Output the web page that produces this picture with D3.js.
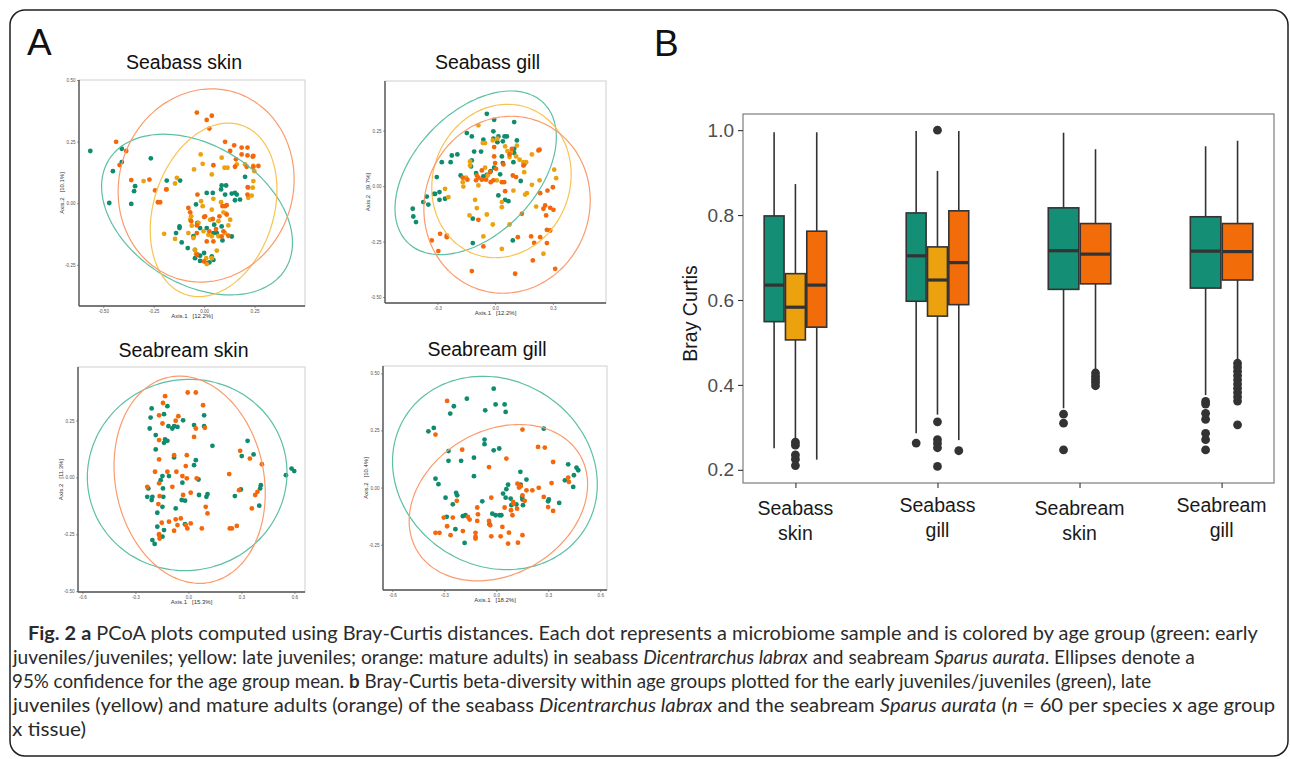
<!DOCTYPE html>
<html>
<head>
<meta charset="utf-8">
<script src="https://cdn.jsdelivr.net/npm/d3@7"></script>
<style>
  body { margin: 0; background: #fff; }
  svg { display: block; }
</style>
</head>
<body>
<script>
// ---------- panel A : PCoA scores (Axis.1, Axis.2) ----------
const pcoaTitles = ["Seabass skin", "Seabass gill", "Seabream skin", "Seabream gill"];
const axis1Labels = ["Axis.1   [12.2%]", "Axis.1   [12.2%]", "Axis.1   [15.3%]", "Axis.1   [18.2%]"];
const axis2Labels = ["Axis.2   [10.1%]", "Axis.2   [9.7%]", "Axis.2   [11.3%]", "Axis.2   [10.4%]"];
const pcoaXTicks = [[-0.5, -0.25, 0, 0.25], [-0.3, 0, 0.3], [-0.6, -0.3, 0, 0.3, 0.6], [-0.6, -0.3, 0, 0.3, 0.6]];
const pcoaYTicks = [[-0.25, 0, 0.25, 0.5], [-0.5, -0.25, 0, 0.25], [-0.5, -0.25, 0, 0.25], [-0.25, 0, 0.25, 0.5]];
const pcoaXDigits = [2, 1, 1, 1];
const ageGroups = ["early juveniles/juveniles", "late juveniles", "mature adults"];

const bassSkinEarly = [[-0.564,0.212],[-0.408,0.221],[-0.408,0.167],[-0.452,0.130],[-0.342,0.069],[-0.347,0.049],[-0.470,0.001],[-0.361,-0.003],[-0.264,0.182],[-0.185,0.092],[-0.119,0.092],[-0.040,-0.005],[0.013,0.042],[0.043,0.042],[0.084,0.056],[0.087,0.072],[0.109,0.072],[0.104,0.035],[0.137,0.039],[0.153,0.042],[0.162,0.035],[0.178,0.015],[0.153,0.012],[0.203,0.107],[-0.122,-0.094],[-0.122,-0.101],[-0.139,-0.121],[-0.111,-0.159],[-0.081,-0.182],[-0.053,-0.134],[-0.033,-0.080],[-0.020,-0.101],[0.013,-0.101],[0.050,-0.087],[0.087,-0.094],[0.046,-0.121],[0.063,-0.121],[0.091,-0.151],[0.137,-0.135],[-0.045,-0.189],[-0.033,-0.209],[-0.045,-0.223],[-0.020,-0.213],[0.000,-0.202],[-0.020,-0.234],[0.013,-0.243],[0.026,-0.240],[0.046,-0.230],[0.038,-0.216]];
const bassSkinLate = [[-0.300,0.090],[-0.185,0.056],[-0.135,0.103],[-0.144,0.080],[-0.050,0.137],[-0.017,0.198],[-0.007,0.160],[0.038,0.117],[0.087,0.185],[0.101,0.144],[0.116,0.144],[0.162,0.158],[0.203,0.158],[0.244,0.151],[0.249,0.130],[0.244,0.090],[0.241,0.063],[0.219,0.063],[0.236,0.031],[0.219,0.022],[0.046,0.018],[-0.015,0.008],[-0.064,-0.053],[-0.069,-0.067],[-0.061,-0.091],[-0.028,-0.080],[0.030,-0.067],[0.071,-0.073],[0.109,-0.042],[0.129,-0.067],[0.120,-0.090],[0.104,-0.121],[0.071,-0.134],[0.021,-0.128],[0.038,-0.134],[-0.003,-0.114],[-0.198,-0.124],[-0.144,-0.145],[-0.078,-0.121],[-0.053,-0.141],[-0.046,-0.189],[-0.040,-0.205],[0.063,-0.192],[0.010,-0.223],[0.013,-0.247],[0.038,-0.223],[0.096,-0.037],[0.084,0.004],[0.038,-0.026],[-0.007,-0.012]];
const bassSkinAdult = [[-0.036,0.368],[0.013,0.338],[0.038,0.355],[0.026,0.303],[-0.436,0.249],[-0.419,0.155],[-0.386,0.212],[-0.361,0.094],[-0.271,0.096],[-0.243,0.052],[-0.229,0.004],[-0.218,0.004],[-0.188,0.056],[-0.033,0.035],[0.046,0.154],[0.104,0.249],[0.129,0.212],[0.149,0.235],[0.158,0.178],[0.186,0.198],[0.215,0.226],[0.215,0.194],[0.186,0.226],[0.211,0.148],[0.241,0.189],[0.244,0.148],[0.153,0.148],[0.216,0.065],[0.104,-0.012],[0.112,-0.008],[0.091,-0.012],[-0.078,-0.019],[-0.069,-0.037],[-0.064,-0.073],[-0.036,-0.090],[0.005,-0.053],[0.043,-0.064],[0.000,-0.056],[0.026,-0.114],[0.059,-0.105],[0.076,-0.053],[0.112,-0.046],[-0.036,-0.121],[0.013,-0.155],[0.046,-0.155],[0.087,-0.135],[0.096,-0.114],[0.120,-0.132],[0.244,0.192],[0.215,0.035],[-0.036,-0.209],[0.000,-0.236],[0.269,0.151]];

const bassGillEarly = [[-0.043,0.326],[-0.005,0.299],[0.099,0.289],[-0.147,0.239],[-0.121,0.224],[-0.009,0.247],[0.017,0.224],[0.049,0.224],[0.061,0.224],[0.040,0.202],[0.012,0.198],[-0.061,0.209],[-0.073,0.156],[-0.109,0.156],[-0.196,0.143],[-0.225,0.138],[-0.277,0.108],[-0.231,0.108],[-0.121,0.116],[-0.125,0.089],[-0.099,0.059],[-0.061,0.044],[-0.023,0.068],[-0.005,0.083],[0.040,0.104],[0.095,0.108],[0.099,0.168],[0.113,0.206],[0.151,0.098],[0.099,0.149],[-0.179,0.048],[-0.303,0.041],[-0.312,-0.035],[-0.289,-0.027],[-0.373,-0.072],[-0.355,-0.047],[-0.347,-0.083],[-0.317,-0.035],[-0.260,-0.057],[-0.428,-0.102],[-0.425,-0.137],[-0.411,-0.162],[-0.289,-0.062],[0.133,0.023],[0.017,-0.042],[0.052,-0.062],[0.069,-0.068],[-0.116,-0.147],[0.092,-0.245],[-0.116,-0.257],[-0.043,0.051],[0.026,0.053],[-0.009,0.214],[0.035,0.134]];
const bassGillLate = [[-0.087,0.274],[-0.064,0.194],[-0.052,0.194],[-0.012,0.206],[0.012,0.214],[0.052,0.179],[0.064,0.158],[0.075,0.131],[0.081,0.153],[0.109,0.134],[0.127,0.119],[0.147,0.108],[0.161,0.108],[0.191,0.143],[0.151,0.063],[-0.130,0.111],[-0.151,0.038],[-0.168,0.018],[-0.165,-0.002],[-0.260,-0.012],[-0.243,-0.050],[-0.104,-0.062],[-0.095,-0.099],[-0.133,-0.132],[-0.043,-0.128],[-0.012,-0.173],[0.035,-0.072],[0.035,-0.095],[0.075,-0.173],[0.095,-0.020],[0.156,-0.038],[0.165,-0.032],[0.191,0.006],[0.307,0.074],[0.317,0.036],[0.213,-0.092],[0.231,0.026],[-0.061,-0.227],[0.035,-0.283],[0.251,-0.305],[-0.052,0.083],[-0.038,0.048],[0.009,0.026],[-0.087,0.003],[-0.130,0.093],[0.113,0.183]];
const bassGillAdult = [[-0.005,0.176],[-0.005,0.134],[0.000,0.104],[0.005,0.078],[-0.026,0.063],[-0.069,0.071],[-0.095,0.048],[-0.087,0.038],[-0.069,0.029],[-0.047,0.029],[-0.023,0.018],[-0.009,0.026],[0.043,0.098],[0.075,0.143],[0.092,0.048],[0.109,0.041],[0.047,0.018],[0.087,0.168],[0.147,0.093],[0.225,0.161],[0.231,0.164],[-0.099,0.026],[-0.144,0.029],[-0.168,0.038],[-0.087,-0.152],[0.035,0.018],[0.052,-0.023],[0.139,-0.125],[0.187,-0.227],[0.203,-0.256],[0.234,-0.230],[0.269,-0.257],[0.269,-0.197],[0.265,-0.132],[0.251,-0.102],[0.260,-0.087],[0.286,-0.098],[0.303,-0.107],[0.272,-0.020],[0.300,-0.005],[0.234,-0.032],[-0.286,-0.215],[-0.329,-0.245],[-0.251,-0.223],[-0.251,-0.230],[-0.061,-0.272],[-0.121,-0.383],[0.104,-0.395],[0.196,-0.335],[0.312,-0.373],[-0.295,-0.293],[0.118,-0.230],[0.286,-0.200]];

const breamSkinEarly = [[-0.208,0.303],[-0.214,0.263],[-0.219,0.215],[-0.185,0.186],[-0.185,0.123],[-0.138,0.152],[-0.119,0.313],[-0.138,0.278],[-0.113,0.225],[-0.091,0.215],[-0.081,0.225],[-0.062,0.222],[-0.030,0.251],[-0.132,0.167],[-0.119,0.161],[-0.081,0.088],[-0.110,0.006],[-0.147,0.006],[-0.157,-0.012],[-0.144,-0.048],[-0.142,-0.085],[-0.227,-0.048],[-0.233,-0.085],[-0.204,-0.085],[-0.208,-0.099],[-0.176,-0.155],[-0.147,-0.129],[-0.138,-0.231],[-0.147,-0.260],[-0.204,-0.275],[-0.191,-0.292],[-0.072,-0.136],[-0.038,-0.099],[-0.034,-0.023],[-0.019,-0.102],[-0.019,-0.205],[0.032,0.054],[0.057,-0.009],[0.060,-0.077],[0.108,-0.073],[0.102,-0.085],[0.089,0.273],[0.089,0.225],[0.032,0.230],[0.136,0.139],[0.297,-0.053],[0.263,-0.082],[0.302,0.094],[0.335,0.161],[0.369,0.101],[0.410,-0.034],[0.406,-0.048],[0.401,-0.124],[0.552,0.010],[0.584,0.039],[0.599,0.028],[0.042,0.076],[-0.176,-0.216]];
const breamSkinAdult = [[-0.132,0.357],[-0.144,0.327],[-0.166,0.273],[-0.147,0.237],[-0.166,0.164],[-0.166,0.079],[-0.189,0.025],[-0.166,-0.026],[-0.163,-0.082],[-0.170,-0.117],[-0.151,-0.199],[-0.166,-0.249],[-0.163,-0.268],[-0.057,0.269],[-0.072,0.249],[-0.081,0.098],[-0.068,0.025],[-0.119,0.025],[-0.091,-0.041],[-0.034,0.006],[-0.009,0.098],[-0.015,0.050],[-0.009,-0.004],[0.013,-0.067],[-0.030,-0.077],[0.013,-0.202],[-0.015,-0.209],[-0.006,-0.224],[-0.072,-0.184],[-0.062,-0.209],[-0.110,-0.194],[-0.043,-0.180],[-0.081,-0.234],[0.032,0.178],[0.042,0.215],[0.047,-0.004],[0.083,0.317],[0.093,0.218],[0.076,-0.224],[0.098,-0.129],[0.108,-0.158],[-0.004,0.373],[0.042,0.373],[-0.233,-0.041],[0.231,0.015],[0.234,-0.224],[0.246,-0.224],[0.274,-0.213],[0.287,-0.056],[0.293,0.117],[0.348,0.083],[0.359,-0.136],[0.378,-0.077],[0.391,-0.063],[0.416,0.058],[-0.166,-0.253]];

const breamGillEarly = [[-0.015,0.433],[-0.170,0.389],[-0.004,0.364],[0.048,0.364],[0.054,0.331],[-0.245,0.356],[-0.266,0.324],[-0.064,0.338],[-0.392,0.246],[-0.361,0.261],[-0.351,0.039],[-0.334,0.015],[-0.276,0.160],[-0.276,0.117],[-0.203,0.117],[-0.068,0.190],[-0.068,0.210],[-0.015,0.163],[0.017,0.171],[-0.129,0.131],[-0.129,0.050],[-0.232,-0.023],[-0.226,-0.034],[-0.293,-0.044],[-0.251,-0.073],[-0.286,-0.128],[-0.236,-0.182],[-0.193,-0.125],[-0.178,-0.121],[-0.081,-0.060],[-0.039,-0.160],[-0.023,-0.114],[-0.004,-0.121],[0.019,-0.121],[0.029,-0.121],[0.054,-0.044],[0.058,-0.007],[0.068,0.013],[0.083,-0.048],[0.087,-0.077],[0.116,-0.074],[0.141,0.013],[0.139,0.069],[0.149,-0.041],[0.151,-0.052],[0.174,0.035],[0.154,-0.077],[0.274,0.258],[0.299,-0.060],[0.303,-0.052],[0.363,-0.067],[0.396,0.032],[0.415,0.102],[0.444,0.003],[0.448,0.054],[0.463,0.087],[0.473,0.076],[0.039,-0.026],[-0.183,-0.242]];
const breamGillAdult = [[-0.284,0.379],[-0.351,0.232],[-0.197,0.166],[-0.042,0.090],[0.058,0.127],[0.151,0.254],[0.241,0.178],[0.280,0.175],[0.328,0.112],[0.319,0.020],[0.274,-0.041],[0.299,-0.085],[0.328,-0.102],[0.245,-0.001],[0.208,-0.012],[0.174,-0.012],[0.141,0.006],[0.151,-0.034],[0.164,-0.058],[0.097,-0.063],[0.100,-0.070],[0.085,-0.099],[0.093,-0.121],[0.120,-0.092],[0.048,-0.087],[-0.029,-0.044],[-0.042,-0.146],[0.035,-0.172],[0.025,-0.213],[0.073,-0.197],[0.068,-0.245],[0.125,-0.241],[0.151,-0.208],[-0.110,-0.087],[-0.106,-0.117],[-0.164,-0.128],[-0.154,-0.140],[-0.110,-0.146],[-0.251,-0.131],[-0.228,-0.058],[-0.303,-0.131],[-0.284,-0.169],[-0.351,-0.198],[-0.328,-0.198],[-0.264,-0.208],[-0.193,-0.190],[-0.120,-0.198],[-0.120,-0.216],[-0.120,-0.223],[-0.029,-0.213],[0.122,0.017],[0.131,0.000],[0.415,0.044],[0.419,0.025],[-0.035,-0.165]];

// 95% ellipses: [centre x, centre y, half width, half height, y-offset of rightmost point]
const bassSkinEllipses = [[-0.035,-0.046,0.473,0.326,-0.114],[0.047,-0.027,0.314,0.352,0.082],[0.010,0.072,0.436,0.392,0.025]];
const bassGillEllipses = [[-0.101,0.060,0.419,0.369,0.161],[0.033,0.023,0.362,0.346,0.030],[0.062,-0.084,0.432,0.399,0.020]];
const breamSkinEllipses = [[-0.007,0.011,0.565,0.420,0.010],null,[0.007,-0.010,0.428,0.455,-0.060]];
const breamGillEllipses = [[-0.008,0.064,0.591,0.423,-0.050],null,[0.012,-0.066,0.515,0.342,0.080]];

// ---------- panel B : Bray-Curtis box plots ----------
const boxGroups = ["Seabass skin", "Seabass gill", "Seabream skin", "Seabream gill"];
const boxYTicks = [0.2, 0.4, 0.6, 0.8, 1.0];
const boxGroupIdx = [0, 0, 0, 1, 1, 1, 2, 2, 3, 3];
const boxAgeIdx   = [0, 1, 2, 0, 1, 2, 0, 2, 0, 2];
const boxLo  = [0.251, 0.272, 0.224, 0.286, 0.330, 0.270, 0.345, 0.435, 0.376, 0.459];
const boxQ1  = [0.549, 0.506, 0.536, 0.597, 0.562, 0.589, 0.625, 0.638, 0.628, 0.647];
const boxMed = [0.635, 0.583, 0.635, 0.704, 0.647, 0.688, 0.716, 0.708, 0.715, 0.714];
const boxQ3  = [0.798, 0.662, 0.762, 0.805, 0.725, 0.810, 0.817, 0.780, 0.796, 0.780];
const boxHi  = [0.995, 0.873, 0.995, 0.998, 0.904, 0.998, 0.994, 0.955, 0.962, 0.975];
const boxOutliers = [
  [],
  [0.265, 0.258, 0.235, 0.225, 0.210],
  [],
  [0.263],
  [1.0, 0.313, 0.271, 0.262, 0.252, 0.208],
  [0.245],
  [0.331, 0.310, 0.247],
  [0.428, 0.420, 0.413, 0.406, 0.398],
  [0.361, 0.355, 0.333, 0.319, 0.286, 0.271, 0.247],
  [0.451, 0.442, 0.432, 0.422, 0.412, 0.402, 0.392, 0.382, 0.372, 0.362, 0.306]
];

// ---------- caption ----------
const captionLines = [
  [["Fig. 2", "b"], [" ", ""], ["a", "b"], [" PCoA plots computed using Bray-Curtis distances. Each dot represents a microbiome sample and is colored by age group (green: early", ""]],
  [["juveniles/juveniles; yellow: late juveniles; orange: mature adults) in seabass ", ""], ["Dicentrarchus labrax", "i"], [" and seabream ", ""], ["Sparus aurata", "i"], [". Ellipses denote a", ""]],
  [["95% confidence for the age group mean. ", ""], ["b", "b"], [" Bray-Curtis beta-diversity within age groups plotted for the early juveniles/juveniles (green), late", ""]],
  [["juveniles (yellow) and mature adults (orange) of the seabass ", ""], ["Dicentrarchus labrax", "i"], [" and the seabream ", ""], ["Sparus aurata", "i"], [" (", ""], ["n", "i"], [" = 60 per species x age group", ""]],
  [["x tissue)", ""]]
];

const dotColors = ["#0f8b6e", "#eca20e", "#f4680b"];
const ellColors = ["#5dbfa4", "#f9c352", "#fb9b6c"];
const boxColors = ["#148f75", "#eca10f", "#f26c0a"];

// ======================================================
const svg = d3.select("body").append("svg")
  .attr("width", 1290)
  .attr("height", 759)
  .style("font-family", "'Liberation Sans', Arial, sans-serif");

// outer frame of the figure
svg.append("rect")
  .attr("x", 10).attr("y", 10)
  .attr("width", 1278).attr("height", 746)
  .attr("rx", 15)
  .attr("fill", "none")
  .attr("stroke", "#1f1f1f")
  .attr("stroke-width", 1.5);

svg.append("text").attr("x", 27).attr("y", 55)
  .attr("font-size", 37).attr("fill", "#111").text("A");
svg.append("text").attr("x", 654).attr("y", 56)
  .attr("font-size", 37).attr("fill", "#111").text("B");

// ---- PCoA panels ----
const pcoaLayout = [
  { x0: 79,  x1: 305, y0: 80,  y1: 306, xd: [-0.62, 0.50],   yd: [-0.417, 0.50], titleY: 69 },
  { x0: 385, x1: 606, y0: 81,  y1: 303, xd: [-0.572, 0.576], yd: [-0.527, 0.474], titleY: 69 },
  { x0: 78,  x1: 305, y0: 367, y1: 592, xd: [-0.625, 0.66],  yd: [-0.503, 0.485], titleY: 357 },
  { x0: 383, x1: 607, y0: 366, y1: 590, xd: [-0.654, 0.639], yd: [-0.448, 0.532], titleY: 356 }
];
const pcoaPoints = [
  [bassSkinEarly, bassSkinLate, bassSkinAdult],
  [bassGillEarly, bassGillLate, bassGillAdult],
  [breamSkinEarly, [], breamSkinAdult],
  [breamGillEarly, [], breamGillAdult]
];
const pcoaEllipses = [bassSkinEllipses, bassGillEllipses, breamSkinEllipses, breamGillEllipses];

function ellipsePath(e, xs, ys) {
  // conjugate-diameter form: rightmost point and vertical half chord
  const [cx, cy, hw, hh, dr] = e;
  const vc = Math.sqrt(Math.max(hh * hh - dr * dr, 0));
  const pts = d3.range(0, 360, 3).map(a => {
    const t = a * Math.PI / 180;
    return [xs(cx + hw * Math.cos(t)), ys(cy + dr * Math.cos(t) + vc * Math.sin(t))];
  });
  return d3.line().curve(d3.curveCardinalClosed)(pts);
}

pcoaLayout.forEach((L, p) => {
  const g = svg.append("g");
  const xs = d3.scaleLinear().domain(L.xd).range([L.x0, L.x1]);
  const ys = d3.scaleLinear().domain(L.yd).range([L.y1, L.y0]);

  g.append("text")
    .attr("x", (L.x0 + L.x1) / 2 - 8).attr("y", L.titleY)
    .attr("text-anchor", "middle")
    .attr("font-size", 19.5).attr("fill", "#111")
    .text(pcoaTitles[p]);

  g.append("rect")
    .attr("x", L.x0).attr("y", L.y0)
    .attr("width", L.x1 - L.x0).attr("height", L.y1 - L.y0)
    .attr("fill", "none").attr("stroke", "#cfcfcf").attr("stroke-width", 1);

  const clipId = "clip" + p;
  g.append("clipPath").attr("id", clipId).append("rect")
    .attr("x", L.x0).attr("y", L.y0)
    .attr("width", L.x1 - L.x0).attr("height", L.y1 - L.y0);
  const plot = g.append("g").attr("clip-path", `url(#${clipId})`);

  pcoaPoints[p].forEach((pts, k) => {
    plot.append("g").selectAll("circle")
      .data(pts)
      .enter().append("circle")
      .attr("cx", d => xs(d[0]))
      .attr("cy", d => ys(d[1]))
      .attr("r", 2.4)
      .attr("fill", dotColors[k]);
  });

  pcoaEllipses[p].forEach((e, k) => {
    if (!e) return;
    plot.append("path")
      .attr("d", ellipsePath(e, xs, ys))
      .attr("fill", "none")
      .attr("stroke", ellColors[k])
      .attr("stroke-width", 1.2);
  });

  const xAxis = d3.axisBottom(xs)
    .tickValues(pcoaXTicks[p])
    .tickFormat(d => d.toFixed(pcoaXDigits[p]))
    .tickSize(2).tickSizeOuter(0).tickPadding(2);
  const yAxis = d3.axisLeft(ys)
    .tickValues(pcoaYTicks[p])
    .tickFormat(d => d.toFixed(2))
    .tickSize(2).tickSizeOuter(0).tickPadding(1.5);

  const ax = g.append("g").attr("transform", `translate(0,${L.y1})`).call(xAxis);
  const ay = g.append("g").attr("transform", `translate(${L.x0},0)`).call(yAxis);
  [ax, ay].forEach(a => {
    a.select(".domain").attr("stroke", "#555").attr("stroke-width", 1.4);
    a.selectAll(".tick line").attr("stroke", "#555").attr("stroke-width", 0.6);
    a.selectAll(".tick text").attr("fill", "#555").attr("font-size", 4.6)
      .attr("font-family", "'Liberation Sans', Arial, sans-serif");
  });
  // full range of the axis line
  ax.select(".domain").attr("d", `M${L.x0},0H${L.x1}`);
  ay.select(".domain").attr("d", `M0,${L.y0}V${L.y1}`);

  g.append("text")
    .attr("x", (L.x0 + L.x1) / 2).attr("y", L.y1 + 12)
    .attr("text-anchor", "middle")
    .attr("font-size", 6).attr("fill", "#333")
    .attr("xml:space", "preserve")
    .text(axis1Labels[p]);
  g.append("text")
    .attr("transform", `translate(${L.x0 - 15},${(L.y0 + L.y1) / 2}) rotate(-90)`)
    .attr("text-anchor", "middle")
    .attr("font-size", 6).attr("fill", "#333")
    .attr("xml:space", "preserve")
    .text(axis2Labels[p]);
});

// ---- Box plot panel ----
const bL = { x0: 743, x1: 1274, y0: 114, y1: 483 };
const bx = d3.scalePoint().domain(boxGroups).range([bL.x0, bL.x1]).padding(0.369);
const by = d3.scaleLinear().domain([0.169, 1.038]).range([bL.y1, bL.y0]);
const groupWidth = bx.step() * 0.45;

const bg = svg.append("g");
bg.append("rect")
  .attr("x", bL.x0).attr("y", bL.y0)
  .attr("width", bL.x1 - bL.x0).attr("height", bL.y1 - bL.y0)
  .attr("fill", "none").attr("stroke", "#7d7d7d").attr("stroke-width", 1.2);

const boxes = d3.range(boxMed.length).map(i => {
  const gi = boxGroupIdx[i];
  const members = boxGroupIdx.filter(v => v === gi).length;
  const slotIdx = boxGroupIdx.slice(0, i).filter(v => v === gi).length;
  const slot = groupWidth / members;
  const cx = bx(boxGroups[gi]) - groupWidth / 2 + slot * (slotIdx + 0.5);
  return { i, cx, w: slot - 1.4, age: boxAgeIdx[i] };
});

const boxG = bg.selectAll("g.box").data(boxes).enter().append("g").attr("class", "box");
boxG.append("line")
  .attr("x1", d => d.cx).attr("x2", d => d.cx)
  .attr("y1", d => by(boxHi[d.i])).attr("y2", d => by(boxQ3[d.i]))
  .attr("stroke", "#333").attr("stroke-width", 1.6);
boxG.append("line")
  .attr("x1", d => d.cx).attr("x2", d => d.cx)
  .attr("y1", d => by(boxQ1[d.i])).attr("y2", d => by(boxLo[d.i]))
  .attr("stroke", "#333").attr("stroke-width", 1.6);
boxG.append("rect")
  .attr("x", d => d.cx - d.w / 2).attr("width", d => d.w)
  .attr("y", d => by(boxQ3[d.i]))
  .attr("height", d => by(boxQ1[d.i]) - by(boxQ3[d.i]))
  .attr("fill", d => boxColors[d.age])
  .attr("stroke", "#333").attr("stroke-width", 1.6);
boxG.append("line")
  .attr("x1", d => d.cx - d.w / 2).attr("x2", d => d.cx + d.w / 2)
  .attr("y1", d => by(boxMed[d.i])).attr("y2", d => by(boxMed[d.i]))
  .attr("stroke", "#333").attr("stroke-width", 3.2);
boxG.selectAll("circle")
  .data(d => boxOutliers[d.i].map(v => ({ cx: d.cx, v })))
  .enter().append("circle")
  .attr("cx", d => d.cx).attr("cy", d => by(d.v))
  .attr("r", 4.4).attr("fill", "#333");

const byAxis = bg.append("g").attr("transform", `translate(${bL.x0},0)`)
  .call(d3.axisLeft(by).tickValues(boxYTicks).tickFormat(d3.format(".1f"))
    .tickSize(5).tickSizeOuter(0).tickPadding(4));
byAxis.select(".domain").remove();
byAxis.selectAll(".tick line").attr("stroke", "#333").attr("stroke-width", 1.1);
byAxis.selectAll(".tick text").attr("fill", "#4d4d4d").attr("font-size", 19)
  .attr("font-family", "'Liberation Sans', Arial, sans-serif");

const bxAxis = bg.append("g").attr("transform", `translate(0,${bL.y1})`)
  .call(d3.axisBottom(bx).tickSize(5).tickSizeOuter(0).tickFormat(""));
bxAxis.select(".domain").remove();
bxAxis.selectAll(".tick line").attr("stroke", "#333").attr("stroke-width", 1.1);

bg.selectAll("text.xlab").data(boxGroups).enter().append("text")
  .attr("class", "xlab")
  .attr("text-anchor", "middle")
  .attr("font-size", 19.5).attr("fill", "#1a1a1a")
  .each(function(d, i) {
    const parts = d.split(" ");
    const base = i % 2 === 0 ? 515 : 512;
    d3.select(this).selectAll("tspan").data(parts).enter().append("tspan")
      .attr("x", bx(d)).attr("y", (t, k) => base + k * 25)
      .text(t => t);
  });

bg.append("text")
  .attr("transform", `translate(697,${(bL.y0 + bL.y1) / 2 + 15}) rotate(-90)`)
  .attr("text-anchor", "middle")
  .attr("font-size", 19.5).attr("fill", "#1a1a1a")
  .text("Bray Curtis");

// ---- caption ----
const capStarts = [28, 13, 12, 13, 12];
const capEnds = [1258, 1196, 1152, 1276, 86];
const capBase = [640, 664, 688, 712, 736];
captionLines.forEach((line, li) => {
  const t = svg.append("text")
    .attr("font-family", "Lato, 'Open Sans', sans-serif")
    .attr("font-size", 19.5)
    .attr("fill", "#2b2b2b")
    .attr("xml:space", "preserve");
  line.forEach(([s, st]) => {
    t.append("tspan")
      .attr("font-weight", st === "b" ? "bold" : null)
      .attr("font-style", st === "i" ? "italic" : null)
      .text(s);
  });
  const natural = t.node().getComputedTextLength();
  const k = (capEnds[li] - capStarts[li]) / natural;
  t.attr("transform", `translate(${capStarts[li]},${capBase[li]}) scale(${k},1)`);
});
</script>
</body>
</html>
